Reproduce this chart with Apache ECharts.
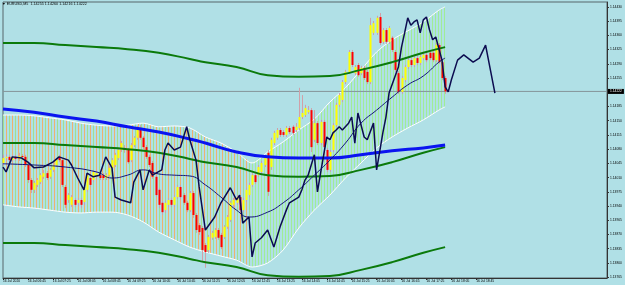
<!DOCTYPE html>
<html>
<head>
<meta charset="utf-8">
<script src="https://cdn.jsdelivr.net/npm/echarts@6/dist/echarts.min.js"></script>
<style>
html, body { margin: 0; padding: 0; background: #B0E0E6; }
#chart { width: 625px; height: 285px; }
</style>
</head>
<body>
<div id="chart"></div>
<script>
// time axis labels, one every 8 bars (M5 -> 40 minutes)
var timeLabels = ['16 Jul 2020', '16 Jul 06:45', '16 Jul 07:25', '16 Jul 08:05', '16 Jul 08:45',
    '16 Jul 09:25', '16 Jul 10:05', '16 Jul 10:45', '16 Jul 11:25', '16 Jul 12:05',
    '16 Jul 12:45', '16 Jul 13:25', '16 Jul 14:05', '16 Jul 14:45', '16 Jul 15:25',
    '16 Jul 16:05', '16 Jul 16:45', '16 Jul 17:25', '16 Jul 18:05', '16 Jul 18:45'];
var barCount = 195;
var yTicks = [1.14430, 1.14395, 1.14360, 1.14325, 1.14290, 1.14255, 1.14185, 1.14150, 1.14115, 1.14080,
    1.14045, 1.14010, 1.13975, 1.13940, 1.13905, 1.13870, 1.13835, 1.13800, 1.13765];
var lastPrice = 1.14222;

// candles
var opens = [1.14046,1.14058,1.14061,1.14053,1.14061,1.14056,1.14063,1.14061,1.14041,1.14004,
    1.13980,1.13992,1.13999,1.14012,1.14021,1.14012,1.14029,1.14041,1.14061,1.14053,
    1.13987,1.13955,1.13943,1.13955,1.13948,1.13955,1.13950,1.13980,1.14009,1.14004,
    1.14012,1.14016,1.14016,1.14009,1.14016,1.14034,1.14041,1.14058,1.14078,1.14083,
    1.14078,1.14053,1.14090,1.14108,1.14132,1.14108,1.14085,1.14061,1.14046,1.14012,
    1.13980,1.13948,1.13930,1.13943,1.13955,1.13943,1.13962,1.13987,1.13967,1.13948,
    1.13930,1.13972,1.13918,1.13893,1.13886,1.13844,1.13832,1.13862,1.13864,1.13881,
    1.13869,1.13864,1.13889,1.13906,1.13943,1.13948,1.13962,1.13930,1.13955,1.13967,
    1.13992,1.14016,1.14016,1.14024,1.14041,1.14071,1.14036,1.14095,1.14108,1.14127,
    1.14122,1.14115,1.14132,1.14135,1.14127,1.14132,1.14159,1.14164,1.14171,1.14176,
    1.14103,1.14144,1.14095,1.14147,1.14078,1.14029,1.14078,1.14139,1.14189,1.14201,
    1.14245,1.14270,1.14319,1.14267,1.14287,1.14267,1.14280,1.14270,1.14245,1.14366,
    1.14366,1.14405,1.14344,1.14373,1.14344,1.14354,1.14319,1.14267,1.14221,1.14250,
    1.14282,1.14299,1.14287,1.14304,1.14292,1.14304,1.14312,1.14317,1.14317,1.14299,
    1.14336,1.14294,1.14255];
var closes = [1.14058,1.14061,1.14053,1.14061,1.14056,1.14063,1.14061,1.14041,1.14004,1.13980,
    1.13997,1.14004,1.14016,1.14021,1.14009,1.14029,1.14041,1.14053,1.14053,1.13992,
    1.13943,1.13967,1.13962,1.13943,1.13955,1.13943,1.13987,1.14016,1.13992,1.14024,
    1.14021,1.14009,1.14009,1.14016,1.14034,1.14053,1.14066,1.14078,1.14095,1.14078,
    1.14048,1.14090,1.14108,1.14127,1.14108,1.14085,1.14061,1.14041,1.14012,1.13967,
    1.13943,1.13925,1.13948,1.13955,1.13943,1.13962,1.13987,1.13962,1.13948,1.13930,
    1.13972,1.13918,1.13881,1.13876,1.13832,1.13827,1.13864,1.13874,1.13881,1.13862,
    1.13839,1.13889,1.13913,1.13948,1.13955,1.13962,1.13930,1.13955,1.13980,1.13992,
    1.14016,1.13999,1.14036,1.14046,1.14058,1.13975,1.14103,1.14120,1.14127,1.14115,
    1.14115,1.14132,1.14122,1.14120,1.14135,1.14159,1.14169,1.14181,1.14176,1.14085,
    1.14144,1.14095,1.14147,1.14085,1.14029,1.14073,1.14139,1.14189,1.14213,1.14245,
    1.14270,1.14319,1.14287,1.14282,1.14262,1.14280,1.14255,1.14245,1.14385,1.14390,
    1.14403,1.14341,1.14373,1.14344,1.14378,1.14324,1.14275,1.14221,1.14255,1.14282,
    1.14299,1.14287,1.14304,1.14292,1.14307,1.14312,1.14299,1.14304,1.14299,1.14336,
    1.14294,1.14255,1.14222];
var highs = [1.14066,1.14068,1.14066,1.14066,1.14066,1.14071,1.14068,1.14066,1.14046,1.14009,
    1.14002,1.14009,1.14021,1.14029,1.14026,1.14034,1.14046,1.14058,1.14066,1.14058,
    1.13992,1.13972,1.13967,1.13960,1.13960,1.13960,1.13992,1.14021,1.14014,1.14029,
    1.14026,1.14021,1.14021,1.14021,1.14039,1.14058,1.14071,1.14083,1.14100,1.14090,
    1.14083,1.14095,1.14112,1.14137,1.14139,1.14112,1.14090,1.14066,1.14051,1.14016,
    1.13985,1.13953,1.13953,1.13960,1.13960,1.13967,1.13992,1.13992,1.13972,1.13953,
    1.13977,1.13977,1.13923,1.13898,1.13891,1.13849,1.13869,1.13879,1.13886,1.13886,
    1.13874,1.13893,1.13918,1.13953,1.13960,1.13967,1.13967,1.13960,1.13985,1.13997,
    1.14021,1.14021,1.14041,1.14051,1.14063,1.14078,1.14108,1.14125,1.14132,1.14132,
    1.14127,1.14137,1.14137,1.14139,1.14144,1.14231,1.14213,1.14189,1.14186,1.14181,
    1.14176,1.14149,1.14152,1.14152,1.14083,1.14078,1.14144,1.14194,1.14218,1.14250,
    1.14275,1.14324,1.14324,1.14287,1.14292,1.14285,1.14285,1.14275,1.14403,1.14395,
    1.14408,1.14415,1.14378,1.14378,1.14383,1.14358,1.14324,1.14272,1.14260,1.14287,
    1.14304,1.14304,1.14309,1.14309,1.14312,1.14317,1.14317,1.14322,1.14322,1.14341,
    1.14341,1.14299,1.14260];
var lows = [1.14039,1.14051,1.14048,1.14048,1.14051,1.14051,1.14053,1.14036,1.13997,1.13972,
    1.13972,1.13987,1.13994,1.14007,1.14004,1.14007,1.14024,1.14036,1.14048,1.13987,
    1.13935,1.13948,1.13938,1.13938,1.13940,1.13935,1.13943,1.13975,1.13987,1.13999,
    1.14007,1.14004,1.14004,1.14004,1.14012,1.14029,1.14036,1.14053,1.14073,1.14071,
    1.14044,1.14048,1.14085,1.14103,1.14103,1.14080,1.14056,1.14036,1.14007,1.13962,
    1.13935,1.13918,1.13923,1.13938,1.13938,1.13938,1.13957,1.13957,1.13943,1.13925,
    1.13925,1.13911,1.13874,1.13869,1.13802,1.13788,1.13825,1.13857,1.13859,1.13857,
    1.13834,1.13859,1.13884,1.13901,1.13938,1.13943,1.13925,1.13925,1.13950,1.13962,
    1.13987,1.13994,1.14012,1.14019,1.14036,1.13965,1.14029,1.14090,1.14103,1.14110,
    1.14110,1.14110,1.14117,1.14115,1.14122,1.14127,1.14154,1.14159,1.14167,1.14073,
    1.14098,1.14090,1.14090,1.14066,1.14024,1.14024,1.14073,1.14135,1.14184,1.14196,
    1.14240,1.14265,1.14282,1.14262,1.14258,1.14262,1.14250,1.14240,1.14240,1.14361,
    1.14361,1.14336,1.14339,1.14339,1.14339,1.14319,1.14270,1.14216,1.14216,1.14245,
    1.14277,1.14282,1.14282,1.14287,1.14287,1.14299,1.14294,1.14299,1.14294,1.14294,
    1.14290,1.14250,1.14216];

// channel band (white lines, striped fill)
var bandIdx = [0,5,10,15,20,25,30,35,40,45,50,55,60,65,70,75,80,85,90,95,100,105,110,115,120,125,130,135,140,142];
var bandUpper = [1.14164,1.14164,1.14162,1.14157,1.14152,1.14144,1.14139,1.14137,1.14139,1.14144,
    1.14135,1.14137,1.14132,1.14110,1.14095,1.14073,1.14046,1.14073,1.14098,1.14127,
    1.14154,1.14196,1.14231,1.14275,1.14319,1.14349,1.14371,1.14393,1.14422,1.14430];
var bandLower = [1.13943,1.13938,1.13935,1.13930,1.13925,1.13923,1.13925,1.13925,1.13918,1.13901,
    1.13876,1.13857,1.13839,1.13827,1.13817,1.13807,1.13790,1.13800,1.13832,1.13886,
    1.13930,1.13967,1.14009,1.14046,1.14083,1.14110,1.14132,1.14152,1.14176,1.14184];
var bandSplit = 80;

// moving averages
var maIdx = [0,10,20,30,40,50,60,65,75,85,95,105,115,125,135,142];
var blueMa = [1.14179,1.14171,1.14159,1.14149,1.14135,1.14122,1.14105,1.14095,1.14073,1.14061,1.14058,1.14058,1.14066,1.14076,1.14083,1.14090];
var envMid = [1.14095,1.14095,1.14090,1.14085,1.14080,1.14071,1.14056,1.14048,1.14036,1.14016,1.14012,1.14014,1.14029,1.14048,1.14071,1.14085];
var envTop = [1.14341,1.14341,1.14336,1.14331,1.14326,1.14317,1.14302,1.14294,1.14282,1.14262,1.14258,1.14260,1.14275,1.14294,1.14317,1.14331];
var envBot = [1.13849,1.13849,1.13844,1.13839,1.13834,1.13825,1.13810,1.13802,1.13790,1.13770,1.13766,1.13768,1.13783,1.13802,1.13825,1.13839];

var slowIdx = [0,10,20,30,35,40,45,50,55,60,65,70,75,79,85,90,95,100,105,110,115,120,125,130,135,140,142];
var slowLine = [1.14044,1.14041,1.14036,1.14024,1.14009,1.14016,1.14029,1.14019,1.14016,1.14014,1.13992,1.13962,1.13930,1.13913,
    1.13925,1.13948,1.13980,1.14016,1.14053,1.14095,1.14144,1.14176,1.14208,1.14238,1.14260,1.14294,1.14304];

var fastIdx = [0,1,3,6,8,10,13,16,18,21,22,24,26,27,29,31,33,35,36,38,41,42,44,45,47,48,51,52,53,55,
    57,59,60,62,63,65,68,70,73,75,76,77,79,80,81,83,85,87,88,89,91,92,95,96,97,98,99,100,101,102,
    104,105,106,107,108,109,111,112,113,114,116,117,119,120,122,123,124,127,128,129,
    130,131,132,133,134,135,136,137,138,139,141,142,143,144,146,148,151,153,155,158];
var fastLine = [1.14036,1.14024,1.14061,1.14058,1.14048,1.14034,1.14036,1.14048,1.14061,1.14053,
    1.14041,1.14009,1.13980,1.14021,1.14012,1.14016,1.14061,1.14034,1.13962,1.13955,
    1.13948,1.13999,1.14029,1.13980,1.14029,1.14016,1.14029,1.14078,1.14095,1.14078,
    1.14085,1.14135,1.14103,1.14053,1.13987,1.13881,1.13913,1.13948,1.13985,1.13955,
    1.13967,1.13898,1.13913,1.13815,1.13849,1.13862,1.13881,1.13839,1.13864,1.13889,
    1.13930,1.13948,1.13962,1.13980,1.14004,1.14016,1.14041,1.14066,1.13975,1.14021,
    1.14110,1.14103,1.14120,1.14127,1.14135,1.14127,1.14144,1.14159,1.14095,1.14169,
    1.14110,1.14103,1.14144,1.14029,1.14120,1.14159,1.14218,1.14282,1.14331,1.14366,
    1.14403,1.14385,1.14393,1.14398,1.14366,1.14398,1.14405,1.14373,1.14349,1.14356,
    1.14299,1.14233,1.14221,1.14250,1.14299,1.14312,1.14294,1.14304,1.14336,1.14218];

function pairs(idx, vals) {
    return idx.map(function (x, k) { return [x, vals[k]]; });
}

function stripes(colors) {
    var c = document.createElement('canvas');
    c.width = colors.length * 3;
    c.height = 1;
    var ctx = c.getContext('2d');
    colors.forEach(function (col, k) {
        ctx.fillStyle = col;
        ctx.fillRect(k * 3, 0, 1, 1);
    });
    return { image: c, repeat: 'repeat' };
}
var leftFill = stripes(['#eeb070', '#a0e090']);
var rightFill = stripes(['#a0ec98']);

function bandPolygon(api, from, to, fill) {
    var top = [], bottom = [];
    for (var k = 0; k < bandIdx.length; k++) {
        var i = bandIdx[k];
        if (i < from || i > to) continue;
        top.push(api.coord([i, bandUpper[k]]));
        bottom.unshift(api.coord([i, bandLower[k]]));
    }
    return { type: 'polygon', shape: { points: top.concat(bottom) }, style: { fill: fill } };
}

var categories = [];
for (var i = 0; i < barCount; i++) {
    categories.push(i % 8 === 0 && timeLabels[i / 8] ? timeLabels[i / 8] : '');
}
function hasLabel(i, v) { return v !== ''; }

var candleData = opens.map(function (o, i) { return [i, o, closes[i], lows[i], highs[i]]; });

const chart = echarts.init(document.getElementById('chart'));

var option = {
    backgroundColor: '#B0E0E6',
    animation: false,
    grid: { left: 2, right: 18, top: 2, bottom: 7, show: true, borderColor: '#56666a', borderWidth: 1 },
    graphic: [{
        type: 'text', left: 2, top: 2,
        style: { text: '\u25BC EURUSD,M5  1.14255 1.14260 1.14216 1.14222', fontSize: 3.7, fontFamily: 'Liberation Sans', fill: '#000' }
    }],
    xAxis: {
        type: 'category',
        data: categories,
        boundaryGap: false,
        axisLine: { lineStyle: { color: '#333' } },
        axisTick: { interval: hasLabel, length: 2, lineStyle: { color: '#333' } },
        axisLabel: { interval: hasLabel, align: 'left', fontSize: 3.3, fontFamily: 'Liberation Sans', color: '#000', margin: 2 },
        splitLine: { show: false }
    },
    yAxis: {
        type: 'value',
        position: 'right',
        min: 1.13763,
        max: 1.14442,
        axisLine: { show: true, lineStyle: { color: '#333' } },
        axisTick: { show: true, length: 2, customValues: yTicks, lineStyle: { color: '#333' } },
        axisLabel: {
            customValues: yTicks,
            formatter: function (v) { return v.toFixed(5); },
            fontSize: 3.3, fontFamily: 'Liberation Sans', color: '#000', margin: 3
        },
        splitLine: { show: false }
    },
    series: [
        {
            type: 'custom',
            silent: true,
            z: 1,
            data: [[0, bandUpper[0]]],
            renderItem: function (params, api) {
                return {
                    type: 'group',
                    children: [
                        bandPolygon(api, 0, bandSplit, leftFill),
                        bandPolygon(api, bandSplit, 1000, rightFill)
                    ]
                };
            }
        },
        { type: 'line', z: 2, data: pairs(bandIdx, bandUpper), symbol: 'none', smooth: 0.3, lineStyle: { color: '#ffffff', width: 1 } },
        { type: 'line', z: 2, data: pairs(bandIdx, bandLower), symbol: 'none', smooth: 0.3, lineStyle: { color: '#ffffff', width: 1 } },
        // current price line with its tag on the price scale
        {
            type: 'line', z: 2, silent: true,
            data: [[0, lastPrice], [barCount - 1, lastPrice]],
            symbol: 'none',
            lineStyle: { color: '#85959a', width: 1 },
            endLabel: {
                show: true, distance: 1,
                formatter: function () { return lastPrice.toFixed(5); },
                backgroundColor: '#000', color: '#fff', fontSize: 3.3, fontFamily: 'Liberation Sans', padding: [1, 2]
            }
        },
        {
            type: 'custom',
            z: 3,
            data: candleData,
            encode: { x: 0, y: [1, 2, 3, 4] },
            renderItem: function (params, api) {
                var i = api.value(0);
                var o = api.coord([i, api.value(1)]);
                var c = api.coord([i, api.value(2)]);
                var l = api.coord([i, api.value(3)]);
                var h = api.coord([i, api.value(4)]);
                var x = Math.round(o[0]);
                var top = Math.min(o[1], c[1]);
                var bot = Math.max(o[1], c[1]);
                var up = api.value(2) >= api.value(1);
                return {
                    type: 'group',
                    children: [
                        { type: 'line', shape: { x1: x + 0.5, y1: h[1], x2: x + 0.5, y2: l[1] }, style: { stroke: '#d0a0a8', lineWidth: 1 } },
                        { type: 'rect', shape: { x: x - 0.5, y: top, width: 2, height: Math.max(bot - top, 1) }, style: { fill: up ? '#ffff00' : '#ff0000' } }
                    ]
                };
            }
        },
        { type: 'line', z: 4, data: pairs(maIdx, envTop), symbol: 'none', smooth: true, lineStyle: { color: '#0b7a0b', width: 2 } },
        { type: 'line', z: 4, data: pairs(maIdx, envMid), symbol: 'none', smooth: true, lineStyle: { color: '#0b7a0b', width: 2 } },
        { type: 'line', z: 4, data: pairs(maIdx, envBot), symbol: 'none', smooth: true, lineStyle: { color: '#0b7a0b', width: 2 } },
        { type: 'line', z: 5, data: pairs(maIdx, blueMa), symbol: 'none', smooth: true, lineStyle: { color: '#0a14f0', width: 3 } },
        { type: 'line', z: 6, data: pairs(slowIdx, slowLine), symbol: 'none', smooth: true, lineStyle: { color: '#14147a', width: 1 } },
        { type: 'line', z: 7, data: pairs(fastIdx, fastLine), symbol: 'none', lineStyle: { color: '#0c0c50', width: 1.5 } }
    ]
};

option && chart.setOption(option);
</script>
</body>
</html>
